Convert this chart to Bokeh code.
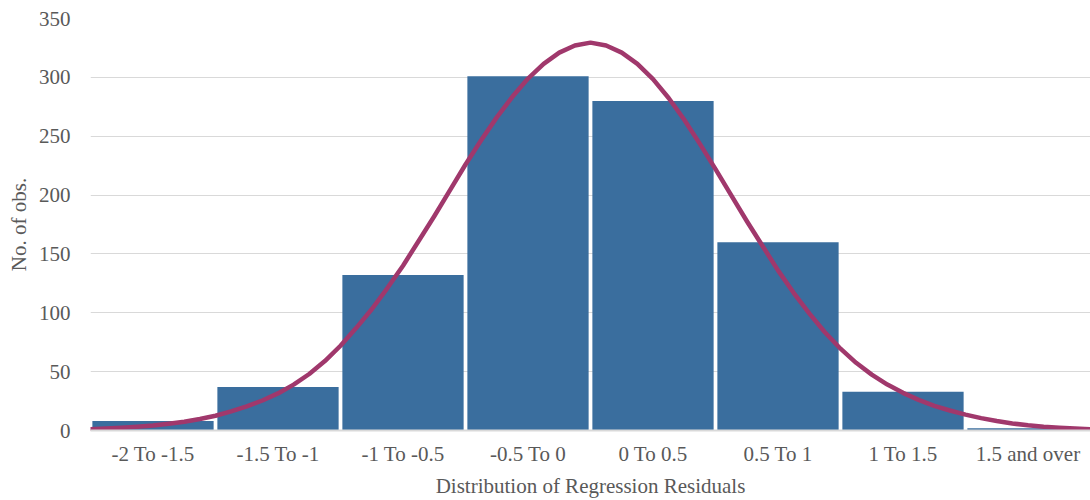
from bokeh.plotting import figure
from bokeh.models import Range1d, FixedTicker
from bokeh.embed import file_html
from bokeh.resources import INLINE

# --- data ---
categories = ["-2 To -1.5", "-1.5 To -1", "-1 To -0.5", "-0.5 To 0",
              "0 To 0.5", "0.5 To 1", "1 To 1.5", "1.5 and over"]
counts = [8, 37, 132, 301, 280, 160, 33, 2]

# fitted curve, values (residual value -> count)
curve_resid = [-2.0, -1.9375, -1.875, -1.8125, -1.75, -1.6875, -1.625, -1.5625,
               -1.5, -1.4375, -1.375, -1.3125, -1.25, -1.1875, -1.125, -1.0625,
               -1.0, -0.9375, -0.875, -0.8125, -0.75, -0.6875, -0.625, -0.5625,
               -0.5, -0.4375, -0.375, -0.3125, -0.25, -0.1875, -0.125, -0.0625,
               0.0, 0.0625, 0.125, 0.1875, 0.25, 0.3125, 0.375, 0.4375,
               0.5, 0.5625, 0.625, 0.6875, 0.75, 0.8125, 0.875, 0.9375,
               1.0, 1.0625, 1.125, 1.1875, 1.25, 1.3125, 1.375, 1.4375,
               1.5, 1.5625, 1.625, 1.6875, 1.75, 1.8125, 1.875, 1.9375, 2.0]
curve_count = [1.0, 1.6, 2.3, 3.2, 4.3, 5.8, 7.5, 9.8,
               12.5, 16.2, 20.5, 25.5, 31.5, 39, 48, 59,
               72, 87, 103, 121, 140, 161, 182, 204,
               226, 246.5, 266, 283.5, 299, 311.5, 321, 327,
               329.5, 327, 321, 311.5, 298.5, 282.5, 264, 243.5,
               222, 200, 178, 157, 136, 117, 99.5, 83.5,
               69.5, 57.5, 47.5, 39, 32, 26, 21, 17,
               13.5, 10.5, 8.0, 6.0, 4.4, 3.2, 2.3, 1.6, 1.1]
y_ticks = [0, 50, 100, 150, 200, 250, 300, 350]

BAR = "#3A6E9E"
CURVE = "#A0386C"
TXT = "#595959"
GRID = "#D9D9D9"
FONT = "Liberation Serif"

n = len(categories)
centers = [i + 0.5 for i in range(n)]
# residual bins are 0.5 wide starting at -2 -> category position
curve_x = [(r + 2.0) * 2.0 for r in curve_resid]

p = figure(width=1090, height=500, output_backend="svg", toolbar_location=None,
           x_range=Range1d(0, n), y_range=Range1d(0, 350),
           min_border_left=90, min_border_right=0, min_border_top=18,
           min_border_bottom=70)
p.outline_line_color = None
p.background_fill_color = "white"
p.border_fill_color = "white"

p.vbar(x=centers, top=counts, width=0.97, bottom=0, fill_color=BAR, line_color=None)
p.line(curve_x, curve_count, line_color=CURVE, line_width=4.5, line_cap="round",
       line_join="round")

# axes
p.xaxis.ticker = FixedTicker(ticks=centers)
p.xaxis.major_label_overrides = {c: lab for c, lab in zip(centers, categories)}
p.xaxis.axis_label = "Distribution of Regression Residuals"
p.xaxis.axis_line_color = GRID
p.xaxis.axis_line_width = 2
p.xaxis.major_tick_line_color = None
p.xaxis.minor_tick_line_color = None
p.xaxis.major_tick_out = 0
p.xaxis.major_label_standoff = 11
p.xaxis.axis_label_standoff = 5

p.yaxis.ticker = FixedTicker(ticks=y_ticks)
p.yaxis.axis_label = "No. of obs."
p.yaxis.axis_line_color = None
p.yaxis.major_tick_line_color = None
p.yaxis.minor_tick_line_color = None
p.yaxis.major_tick_out = 0
p.yaxis.major_label_standoff = 20
p.yaxis.axis_label_standoff = 5

for ax in (p.xaxis[0], p.yaxis[0]):
    ax.major_label_text_font = FONT
    ax.major_label_text_font_size = "21px"
    ax.major_label_text_color = TXT
    ax.axis_label_text_font = FONT
    ax.axis_label_text_font_size = "21px"
    ax.axis_label_text_font_style = "normal"
    ax.axis_label_text_color = TXT

p.xgrid.grid_line_color = None
p.ygrid.grid_line_color = GRID
p.ygrid.grid_line_width = 1
p.ygrid.ticker = FixedTicker(ticks=y_ticks)

open("out.html", "w").write(file_html(p, INLINE))
